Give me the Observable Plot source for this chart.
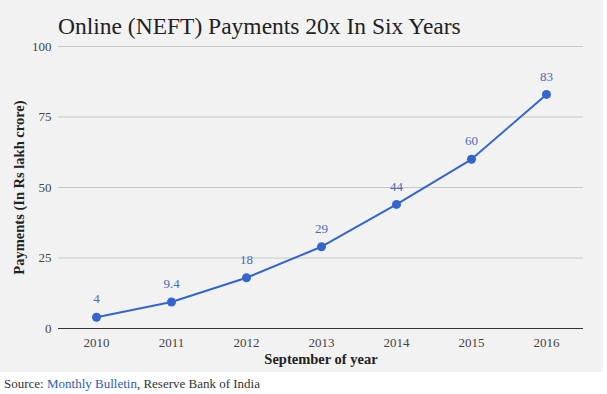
<!DOCTYPE html>
<html>
<head>
<meta charset="utf-8">
<script src="https://cdn.jsdelivr.net/npm/d3@7"></script>
<script src="https://cdn.jsdelivr.net/npm/@observablehq/plot@0.6"></script>
<style>
  body { margin: 0; background: #fff; font-family: "Liberation Serif", serif; }
  #panel { position: relative; width: 603px; height: 372px; background: #f2f2f2; }
  #title { position: absolute; left: 58px; top: 12px; font-family: "Liberation Serif", serif; font-size: 23.5px; line-height: 28px; color: #222; white-space: nowrap; }
  #caption { font-family: "Liberation Serif", serif; font-size: 13px; color: #333; padding: 4px 0 0 4px; }
  #caption a { color: #2a5db0; text-decoration: none; }
</style>
</head>
<body>
<div id="panel"><div id="title">Online (NEFT) Payments 20x In Six Years</div></div>
<div id="caption">Source: <a href="#">Monthly Bulletin</a>, Reserve Bank of India</div>
<script>
const years = ["2010", "2011", "2012", "2013", "2014", "2015", "2016"];
const payments = [4, 9.4, 18, 29, 44, 60, 83];
const valueLabels = ["4", "9.4", "18", "29", "44", "60", "83"];
const yTicks = [0, 25, 50, 75, 100];

const data = years.map((y, i) => ({year: y, value: payments[i], label: valueLabels[i]}));
const blue = "#3366cc";

const chart = Plot.plot({
  width: 603,
  height: 372,
  marginLeft: 58,
  marginRight: 20,
  marginTop: 46,
  marginBottom: 44,
  style: {background: "transparent", fontFamily: "'Liberation Serif', serif", fontSize: "13px", color: "#444"},
  x: {type: "point", domain: years, padding: 0.5, label: null},
  y: {domain: [0, 100], label: null},
  marks: [
    Plot.gridY(yTicks.filter(d => d > 0), {stroke: "#c8c8c8", strokeOpacity: 1}),
    Plot.axisY(yTicks, {tickSize: 0, tickPadding: 7, fill: "#444", label: null}),
    Plot.axisX({tickSize: 0, tickPadding: 9, fill: "#444", label: null}),
    Plot.ruleY([0], {stroke: "#333", strokeWidth: 1.2}),
    Plot.line(data, {x: "year", y: "value", stroke: blue, strokeWidth: 2}),
    Plot.dot(data, {x: "year", y: "value", fill: blue, r: 4.5}),
    Plot.text(data, {x: "year", y: "value", text: "label", dy: -18, fill: "#4a6ab8", fontSize: 13}),
    Plot.text(["Payments (In Rs lakh crore)"], {frameAnchor: "left", textAnchor: "middle", rotate: -90, dx: -39, fill: "#222", fontWeight: "bold", fontSize: 14.5}),
    Plot.text(["September of year"], {frameAnchor: "bottom", dy: 35, fill: "#222", fontWeight: "bold", fontSize: 14.5})
  ]
});
document.getElementById("panel").appendChild(chart);
</script>
</body>
</html>
